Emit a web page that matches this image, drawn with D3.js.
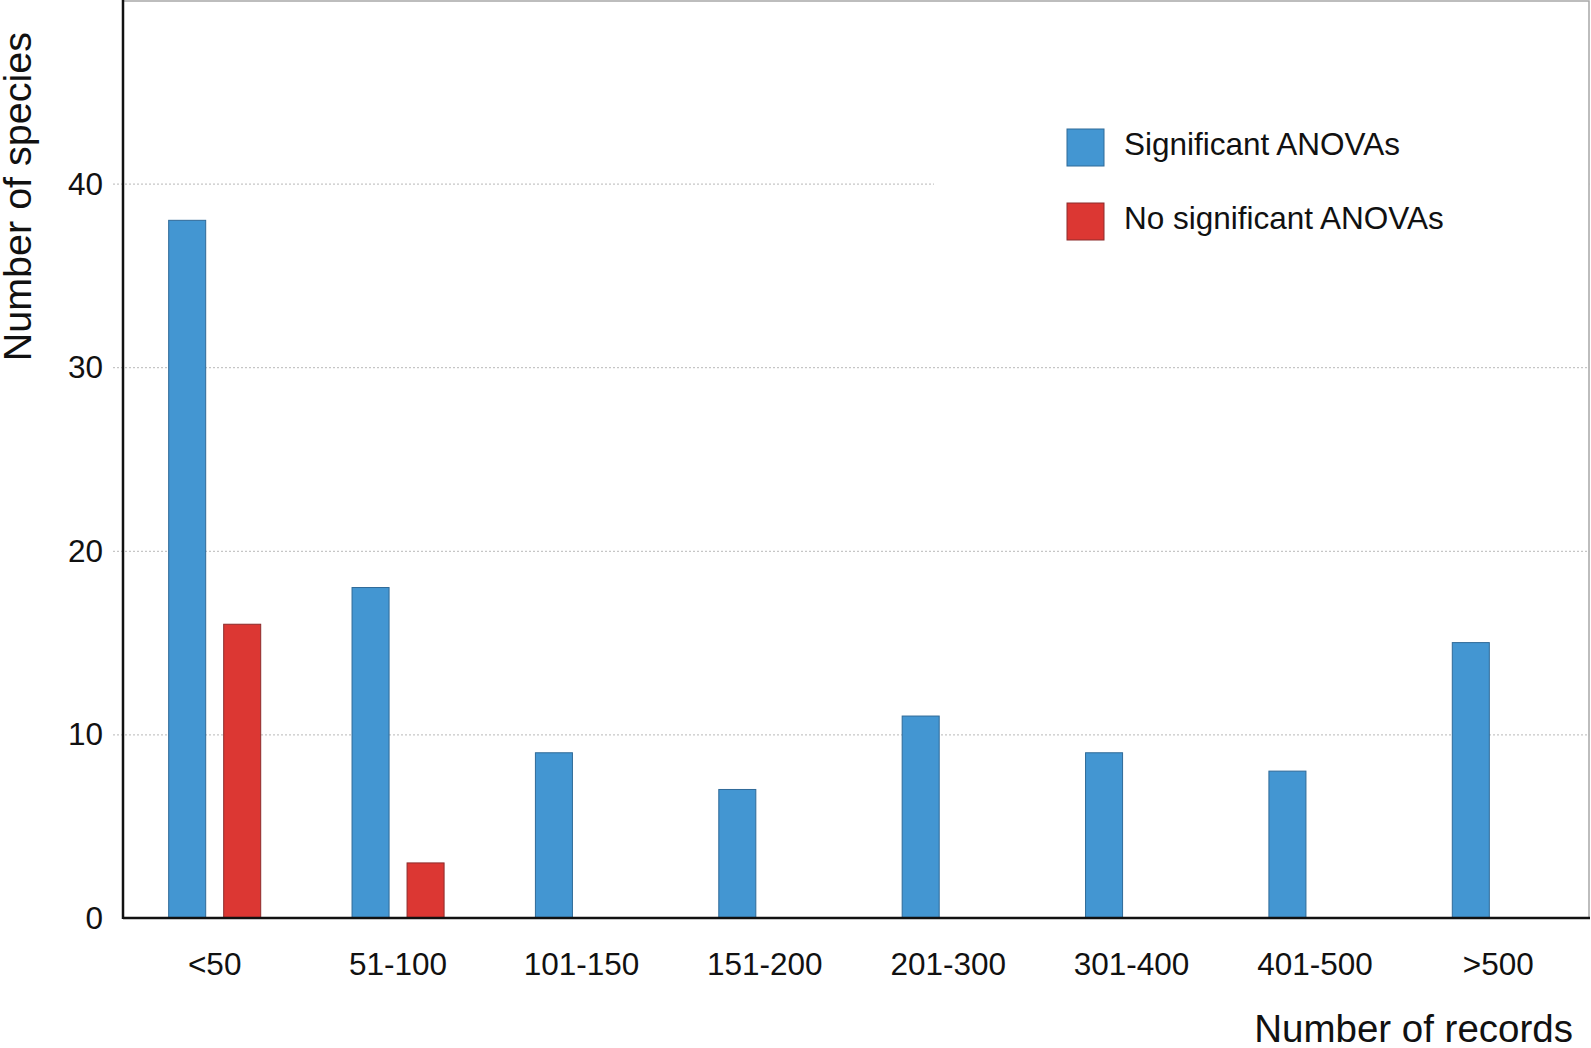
<!DOCTYPE html>
<html>
<head>
<meta charset="utf-8">
<script src="https://cdn.jsdelivr.net/npm/d3@7"></script>
<style>
  body { margin: 0; background: #fff; }
  text { font-family: "Liberation Sans", Arial, sans-serif; fill: #111; }
  .grid line { stroke: #b8b8b8; stroke-dasharray: 2 2; }
</style>
</head>
<body>
<div id="chart"></div>
<script>
// data
let categories = ["<50", "51-100", "101-150", "151-200", "201-300", "301-400", "401-500", ">500"];
let significant = [38, 18, 9, 7, 11, 9, 8, 15];
let notSignificant = [16, 3, 0, 0, 0, 0, 0, 0];
let seriesNames = ["Significant ANOVAs", "No significant ANOVAs"];
let yTicks = [0, 10, 20, 30, 40];

let svgWidth = 1591;
let svgHeight = 1048;

let margin = { top: 1, right: 1, bottom: 130, left: 123 };
let width = svgWidth - margin.left - margin.right;
let height = 918 - margin.top;

let svg = d3
  .select("#chart")
  .append("svg")
  .attr("width", svgWidth)
  .attr("height", svgHeight);

let chartGroup = svg
  .append("g")
  .attr("transform", `translate(${margin.left}, ${margin.top})`);

// scales
let x0 = d3.scaleBand().domain(categories).range([0, width]).padding(0);
let x1 = d3
  .scaleBand()
  .domain(["sig", "nonsig"])
  .range([0, x0.bandwidth()])
  .paddingInner(0.327)
  .paddingOuter(0.83);
let y = d3.scaleLinear().domain([0, 50]).range([height + margin.top - 1, -1]);

let colors = { sig: "#4396d2", nonsig: "#dc3733" };
let strokes = { sig: "#2f6a98", nonsig: "#8c2c2c" };

// frame (top and right)
chartGroup
  .append("path")
  .attr("d", `M0,0H${width - 1}V${y(0)}`)
  .attr("fill", "none")
  .attr("stroke", "#a8a8a8")
  .attr("stroke-width", 1.5);

// dotted gridlines, they double as ticks
let grid = chartGroup
  .append("g")
  .attr("class", "grid")
  .call(
    d3.axisLeft(y)
      .tickValues(yTicks.filter(d => d > 0))
      .tickSize(-(width + 10))
      .tickFormat("")
  )
  .attr("transform", "translate(-10, 0)");
grid.select(".domain").remove();

// tick labels
chartGroup
  .selectAll(".ylab")
  .data(yTicks)
  .enter()
  .append("text")
  .attr("class", "ylab")
  .attr("x", -20)
  .attr("y", d => y(d) + 11)
  .attr("text-anchor", "end")
  .attr("font-size", 31.5)
  .text(d => d);

// legend area covers the grid
chartGroup
  .append("rect")
  .attr("x", 934 - margin.left)
  .attr("y", 100)
  .attr("width", width - (934 - margin.left) - 2)
  .attr("height", 160)
  .attr("fill", "#fff");

// bars
let rows = categories.map((c, i) => ({
  cat: c,
  values: [
    { key: "sig", value: significant[i] },
    { key: "nonsig", value: notSignificant[i] }
  ]
}));

let groups = chartGroup
  .selectAll(".bargroup")
  .data(rows)
  .enter()
  .append("g")
  .attr("class", "bargroup")
  .attr("transform", d => `translate(${x0(d.cat)}, 0)`);

groups
  .selectAll("rect")
  .data(d => d.values.filter(v => v.value > 0))
  .enter()
  .append("rect")
  .attr("x", d => x1(d.key))
  .attr("y", d => y(d.value))
  .attr("width", x1.bandwidth())
  .attr("height", d => y(0) - y(d.value))
  .attr("fill", d => colors[d.key])
  .attr("stroke", d => strokes[d.key])
  .attr("stroke-width", 1);

// axes lines
chartGroup
  .append("line")
  .attr("x1", 0)
  .attr("x2", width)
  .attr("y1", y(0))
  .attr("y2", y(0))
  .attr("stroke", "#111")
  .attr("stroke-width", 2.5);

chartGroup
  .append("line")
  .attr("x1", 0)
  .attr("x2", 0)
  .attr("y1", -1)
  .attr("y2", y(0) + 1)
  .attr("stroke", "#111")
  .attr("stroke-width", 2.5);

// category labels
chartGroup
  .selectAll(".xlab")
  .data(categories)
  .enter()
  .append("text")
  .attr("class", "xlab")
  .attr("x", d => x0(d) + x0.bandwidth() / 2)
  .attr("y", y(0) + 57)
  .attr("text-anchor", "middle")
  .attr("font-size", 31.5)
  .text(d => d);

// axis titles
svg
  .append("text")
  .attr("x", 1573)
  .attr("y", 1042)
  .attr("text-anchor", "end")
  .attr("font-size", 38.5)
  .text("Number of records");

svg
  .append("text")
  .attr("transform", "rotate(-90)")
  .attr("x", -32)
  .attr("y", 31)
  .attr("text-anchor", "end")
  .attr("font-size", 39.5)
  .text("Number of species");

// legend
let legend = svg
  .selectAll(".legend")
  .data(["sig", "nonsig"])
  .enter()
  .append("g")
  .attr("class", "legend")
  .attr("transform", (d, i) => `translate(1067, ${129 + i * 74})`);

legend
  .append("rect")
  .attr("width", 37)
  .attr("height", 37)
  .attr("fill", d => colors[d])
  .attr("stroke", d => strokes[d])
  .attr("stroke-width", 1);

legend
  .append("text")
  .attr("x", 57)
  .attr("y", 26)
  .attr("font-size", 31.5)
  .text((d, i) => seriesNames[i]);
</script>
</body>
</html>
